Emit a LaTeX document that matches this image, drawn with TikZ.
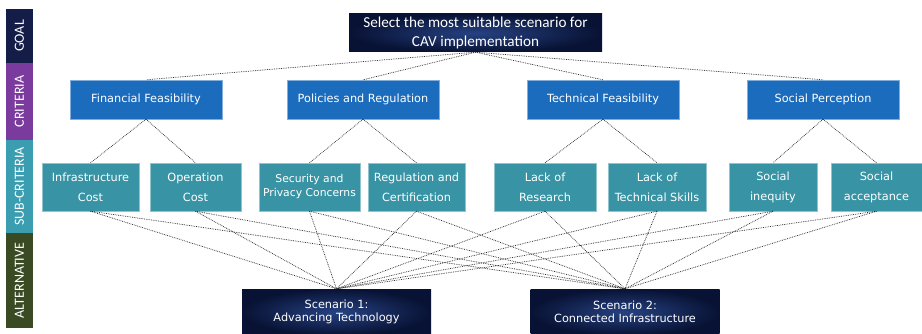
\documentclass[tikz,border=0pt]{standalone}
\usepackage{fontspec}
\setmainfont{DejaVu Sans}
\newfontfamily\calfont{Carlito}

\definecolor{bandgoal}{RGB}{20,28,72}
\definecolor{bandcrit}{RGB}{123,59,158}
\definecolor{bandsub}{RGB}{59,157,176}
\definecolor{bandalt}{RGB}{58,74,34}
\definecolor{critblue}{RGB}{28,108,190}
\definecolor{subteal}{RGB}{56,148,164}
\definecolor{navyin}{RGB}{38,66,130}
\definecolor{navyout}{RGB}{8,18,52}

\begin{document}
\begin{tikzpicture}[x=1pt, y=-1pt,
    every node/.style = {text=white, align=center, inner sep=0pt,
                         font=\fontsize{11.3}{20}\selectfont},
    band/.style = {rotate=90, minimum height=27pt, font=\calfont\fontsize{14}{14}\selectfont},
    crit/.style = {fill=critblue, draw=white!45!critblue, minimum width=152pt, minimum height=39pt},
    sub/.style = {fill=subteal, draw=white!45!subteal, minimum height=48pt},
    navy/.style = {shading=radial, inner color=navyin, outer color=navyout},
    alt/.style = {navy, minimum width=189pt, minimum height=46pt,
                  font=\fontsize{11.3}{13}\selectfont},
    link/.style = {densely dotted, line width=0.75pt, gray!35!black}]
\clip (0,0) rectangle (922,334);

% left-hand level bar
\node[band, fill=bandgoal, minimum width=54pt] (lgoal) at (19.5,36) {GOAL};
\node[band, fill=bandcrit, minimum width=77pt] (lcrit) at (19.5,101.5) {CRITERIA};
\node[band, fill=bandsub, minimum width=93pt] (lsub) at (19.5,186.5) {SUB-CRITERIA};
\node[band, fill=bandalt, minimum width=95pt] (lalt) at (19.5,280.5) {ALTERNATIVE};

% goal
\node[navy, minimum width=253pt, minimum height=38pt,
      font=\calfont\fontsize{15.2}{18.5}\selectfont] (goal) at (475.5,33)
    {Select the most suitable scenario for\\CAV implementation};

% criteria
\node[crit] (fin) at (146,99.5) {Financial Feasibility};
\node[crit] (pol) at (363,99.5) {Policies and Regulation};
\node[crit] (tec) at (603,99.5) {Technical Feasibility};
\node[crit] (soc) at (823,99.5) {Social Perception};

% sub-criteria
\node[sub, minimum width=97pt] (infra) at (90.5,187) {Infrastructure\\Cost};
\node[sub, minimum width=91pt] (oper) at (195.5,187) {Operation\\Cost};
\node[sub, minimum width=101pt, font=\fontsize{10.8}{14}\selectfont] (secu) at (309.5,187)
    {Security and\\Privacy Concerns};
\node[sub, minimum width=97pt] (regu) at (416.5,187) {Regulation and\\Certification};
\node[sub, minimum width=102pt] (resea) at (545,187) {Lack of\\Research};
\node[sub, minimum width=98pt] (skill) at (657,187) {Lack of\\Technical Skills};
\node[sub, minimum width=88pt] (ineq) at (773,187) {Social\\inequity};
\node[sub, minimum width=91pt] (accep) at (876.5,187) {Social\\acceptance};

% alternatives
\node[alt] (scen1) at (336.5,312) {Scenario 1:\\Advancing Technology};
\node[alt] (scen2) at (625,312) {Scenario 2:\\Connected Infrastructure};

% connectors
\foreach \c in {fin,pol,tec,soc}
    \draw[link] (goal.south) -- (\c.north);
\draw[link] (fin.south) -- (infra.north);
\draw[link] (fin.south) -- (oper.north);
\draw[link] (pol.south) -- (secu.north);
\draw[link] (pol.south) -- (regu.north);
\draw[link] (tec.south) -- (resea.north);
\draw[link] (tec.south) -- (skill.north);
\draw[link] (soc.south) -- (ineq.north);
\draw[link] (soc.south) -- (accep.north);
\foreach \s in {infra,oper,secu,regu,resea,skill,ineq,accep}
    \foreach \a in {scen1,scen2}
        \draw[link] (\s.south) -- (\a.north);

\end{tikzpicture}
\end{document}
